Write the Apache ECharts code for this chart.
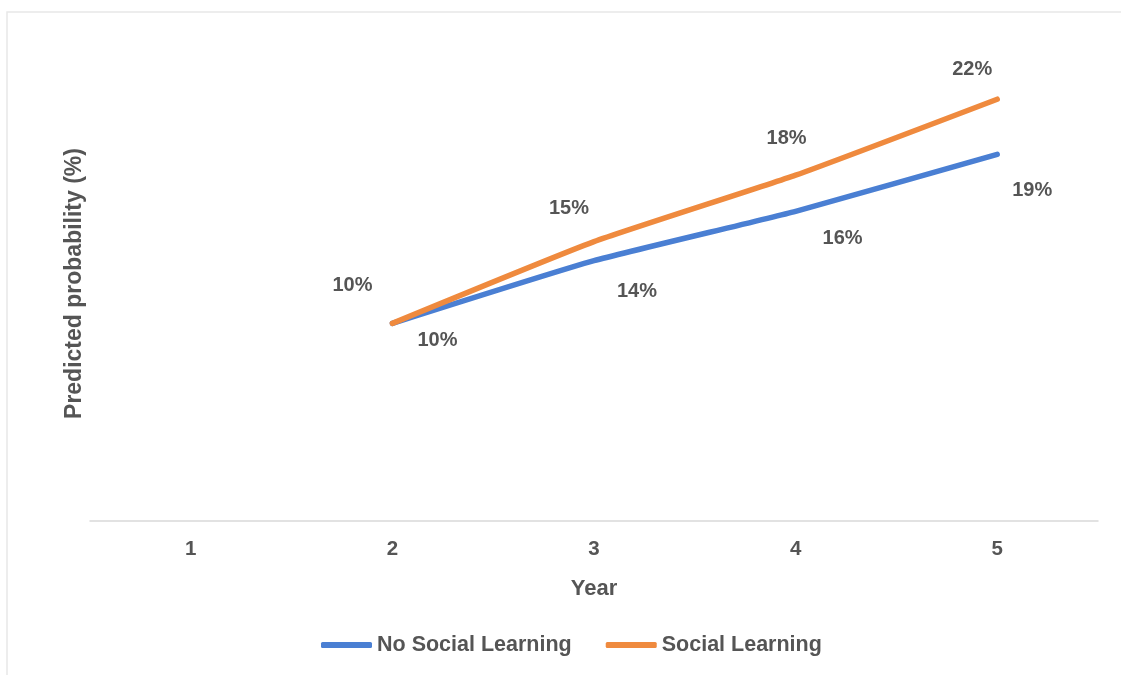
<!DOCTYPE html>
<html>
<head>
<meta charset="utf-8">
<script src="https://cdn.jsdelivr.net/npm/echarts@6/dist/echarts.min.js"></script>
<style>
html,body{margin:0;padding:0;background:#fff;}
#main{width:1121px;height:675px;}
</style>
</head>
<body>
<div id="main"></div>
<script>
// ---- data ----
var years = ['1', '2', '3', '4', '5'];
var noSocialLearning = [null, 10.4, 13.7, 16.3, 19.3];
var socialLearning = [null, 10.4, 14.7, 18.2, 22.2];
var seriesNames = ['No Social Learning', 'Social Learning'];

// ---- label placement (style, not data) ----
var noSocialOffsets = [[0,0], [45,17], [43,31], [47,27], [35,36]];
var socialOffsets = [[0,0], [-40,-38], [-25,-33], [-9,-37], [-25,-30]];

var FONT = 'Liberation Sans';
var TXT = '#555555';

function build(values, offsets) {
  return values.map(function (v, i) {
    return { value: v, label: { offset: offsets[i] } };
  });
}

var chart = echarts.init(document.getElementById('main'));
chart.setOption({
  backgroundColor: '#ffffff',
  animation: false,
  graphic: [{
    type: 'rect', silent: true, z: -10,
    shape: { x: 7, y: 12, width: 1130, height: 700 },
    style: { fill: 'none', stroke: '#e8e8e8', lineWidth: 1.5 }
  }],
  grid: { left: 90, right: 23, top: 46, bottom: 154 },
  legend: {
    left: 316, top: 629,
    icon: 'roundRect', itemWidth: 51, itemHeight: 6, itemGap: 34,
    textStyle: { fontFamily: FONT, fontWeight: 'bold', fontSize: 21.5, color: TXT },
    data: seriesNames
  },
  xAxis: {
    type: 'category', data: years, boundaryGap: true,
    name: 'Year', nameLocation: 'middle', nameGap: 57,
    nameTextStyle: { fontFamily: FONT, fontWeight: 'bold', fontSize: 22, color: TXT },
    axisLine: { lineStyle: { color: '#d9d9d9', width: 1.5 } },
    axisTick: { show: false },
    axisLabel: { margin: 18, fontFamily: FONT, fontWeight: 'bold', fontSize: 20.5, color: TXT },
    splitLine: { show: false }
  },
  yAxis: {
    type: 'value', min: 0, max: 25,
    name: 'Predicted probability (%)', nameLocation: 'middle', nameRotate: 90, nameGap: 4,
    nameTextStyle: { fontFamily: FONT, fontWeight: 'bold', fontSize: 23, color: TXT },
    axisLine: { show: false }, axisTick: { show: false },
    axisLabel: { show: false }, splitLine: { show: false }
  },
  series: [{
    name: seriesNames[0], type: 'line', smooth: 0.15,
    data: build(noSocialLearning, noSocialOffsets),
    symbol: 'circle', symbolSize: 0.1,
    itemStyle: { color: '#4A7FD3' },
    lineStyle: { color: '#4A7FD3', width: 5.5, cap: 'round', join: 'round' },
    label: {
      show: true, position: 'inside', fontFamily: FONT, fontWeight: 'bold', fontSize: 20, color: TXT,
      formatter: function (p) { return Math.round(p.value) + '%'; }
    },
    z: 2
  }, {
    name: seriesNames[1], type: 'line', smooth: 0.15,
    data: build(socialLearning, socialOffsets),
    symbol: 'circle', symbolSize: 0.1,
    itemStyle: { color: '#EF8A3E' },
    lineStyle: { color: '#EF8A3E', width: 5.5, cap: 'round', join: 'round' },
    label: {
      show: true, position: 'inside', fontFamily: FONT, fontWeight: 'bold', fontSize: 20, color: TXT,
      formatter: function (p) { return Math.round(p.value) + '%'; }
    },
    z: 3
  }]
});
</script>
</body>
</html>
